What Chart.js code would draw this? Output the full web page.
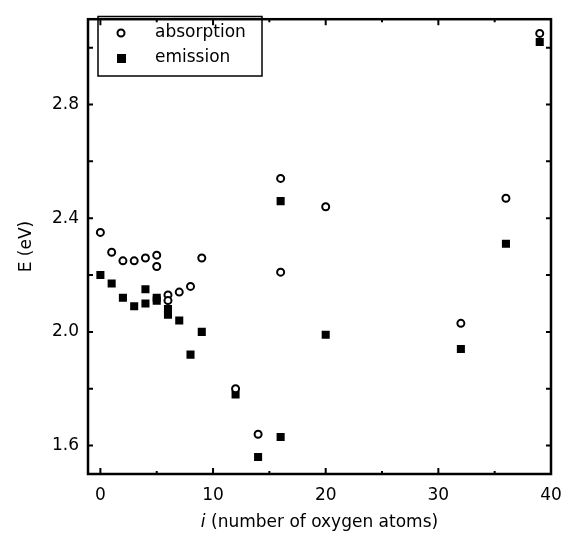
<!DOCTYPE html>
<html>
<head>
<meta charset="utf-8">
<script src="https://cdn.jsdelivr.net/npm/chart.js@4"></script>
<style>
  html, body { margin: 0; padding: 0; background: #fff; }
  #wrap { width: 574px; height: 542px; }
</style>
</head>
<body>
<div id="wrap"><canvas id="chart" width="574" height="542"></canvas></div>
<script>
// values
const absorptionI = [0, 1, 2, 3, 4, 5, 5, 6, 6, 7, 8, 9, 12, 14, 16, 16, 20, 32, 36, 39];
const absorptionE = [2.35, 2.28, 2.25, 2.25, 2.26, 2.27, 2.23, 2.13, 2.11, 2.14, 2.16, 2.26, 1.80, 1.64, 2.54, 2.21, 2.44, 2.03, 2.47, 3.05];
const emissionI = [0, 1, 2, 3, 4, 4, 5, 5, 6, 6, 7, 8, 9, 12, 14, 16, 16, 20, 32, 36, 39];
const emissionE = [2.20, 2.17, 2.12, 2.09, 2.15, 2.10, 2.12, 2.11, 2.08, 2.06, 2.04, 1.92, 2.00, 1.78, 1.56, 2.46, 1.63, 1.99, 1.94, 2.31, 3.02];
const xTicks = [0, 5, 10, 15, 20, 25, 30, 35, 40];
const xLabels = [0, 10, 20, 30, 40];
const yTicks = [1.6, 1.8, 2.0, 2.2, 2.4, 2.6, 2.8, 3.0];
const yLabels = [1.6, 2.0, 2.4, 2.8];

const FONT = "'DejaVu Sans', sans-serif";

function toPoints(xs, ys) {
    return xs.map((x, k) => ({ x: x, y: ys[k] }));
}

function isLabel(list, v) {
    return list.some(t => Math.abs(t - v) < 1e-6);
}

// frame, inward ticks on all four sides, axis titles
const framePlugin = {
    id: 'frame',
    afterDraw(chart) {
        const ctx = chart.ctx;
        const a = chart.chartArea;
        const xs = chart.scales.x, ys = chart.scales.y;
        ctx.save();
        ctx.strokeStyle = '#000';
        ctx.lineWidth = 2;
        ctx.beginPath();
        xs.ticks.forEach(t => {
            const px = xs.getPixelForValue(t.value);
            const len = isLabel(xLabels, t.value) ? 6 : 3;
            ctx.moveTo(px, a.bottom); ctx.lineTo(px, a.bottom - len);
            ctx.moveTo(px, a.top); ctx.lineTo(px, a.top + len);
        });
        ys.ticks.forEach(t => {
            const py = ys.getPixelForValue(t.value);
            const len = 5;
            ctx.moveTo(a.left, py); ctx.lineTo(a.left + len, py);
            ctx.moveTo(a.right, py); ctx.lineTo(a.right - len, py);
        });
        ctx.stroke();
        ctx.lineWidth = 2.5;
        ctx.strokeRect(a.left, a.top, a.right - a.left, a.bottom - a.top);

        // x title with italic i
        ctx.fillStyle = '#000';
        ctx.textBaseline = 'middle';
        ctx.textAlign = 'left';
        const italic = 'italic 17px ' + FONT;
        const normal = '17px ' + FONT;
        ctx.font = italic;
        const w1 = ctx.measureText('i').width;
        ctx.font = normal;
        const rest = ' (number of oxygen atoms)';
        const w2 = ctx.measureText(rest).width;
        const cx = (a.left + a.right) / 2;
        const start = cx - (w1 + w2) / 2;
        ctx.font = italic;
        ctx.fillText('i', start, 523);
        ctx.font = normal;
        ctx.fillText(rest, start + w1, 523);

        // y title
        ctx.translate(27, (a.top + a.bottom) / 2);
        ctx.rotate(-Math.PI / 2);
        ctx.textAlign = 'center';
        ctx.fillText('E (eV)', 0, 0);
        ctx.restore();
    }
};

new Chart(document.getElementById('chart'), {
    type: 'scatter',
    data: {
        datasets: [{
            label: 'absorption',
            data: toPoints(absorptionI, absorptionE),
            pointStyle: 'circle',
            pointRadius: 3.5,
            pointBorderWidth: 2,
            borderColor: '#000',
            backgroundColor: '#fff'
        }, {
            label: 'emission',
            data: toPoints(emissionI, emissionE),
            pointStyle: 'rect',
            pointRadius: 5.7,
            pointBorderWidth: 0,
            borderColor: '#000',
            backgroundColor: '#000'
        }]
    },
    options: {
        responsive: false,
        animation: false,
        layout: { padding: { left: 0, top: 11, right: 23, bottom: 0 } },
        plugins: {
            legend: { display: false },
            tooltip: { enabled: false }
        },
        scales: {
            x: {
                type: 'linear',
                min: -1.1,
                max: 40,
                afterBuildTicks(scale) { scale.ticks = xTicks.map(v => ({ value: v })); },
                afterFit(scale) { scale.height = 68; },
                grid: { display: false, drawTicks: false },
                border: { display: false },
                ticks: {
                    autoSkip: false,
                    maxRotation: 0,
                    padding: 11,
                    color: '#000',
                    font: { family: FONT, size: 17 },
                    callback: v => isLabel(xLabels, v) ? String(v) : ''
                }
            },
            y: {
                type: 'linear',
                min: 1.5,
                max: 3.1,
                afterBuildTicks(scale) { scale.ticks = yTicks.map(v => ({ value: v })); },
                afterFit(scale) { scale.width = 88; },
                grid: { display: false, drawTicks: false },
                border: { display: false },
                ticks: {
                    autoSkip: false,
                    padding: 9,
                    color: '#000',
                    font: { family: FONT, size: 17 },
                    callback: v => isLabel(yLabels, v) ? v.toFixed(1) : ''
                }
            }
        }
    },
    plugins: [framePlugin, {
        id: 'legendBox',
        afterDraw(chart) {
            // legend box drawn in the upper left, like the original
            const ctx = chart.ctx;
            const ds = chart.data.datasets;
            ctx.save();
            ctx.strokeStyle = '#000';
            ctx.lineWidth = 1.5;
            ctx.strokeRect(98, 16.5, 164, 59.5);
            ctx.font = '17px ' + FONT;
            ctx.fillStyle = '#000';
            ctx.textBaseline = 'middle';
            ctx.textAlign = 'left';
            ctx.fillText(ds[0].label, 155, 33);
            ctx.fillText(ds[1].label, 155, 58);
            ctx.lineWidth = 2;
            ctx.fillStyle = '#fff';
            ctx.beginPath();
            ctx.arc(121, 33, 3.5, 0, Math.PI * 2);
            ctx.fill();
            ctx.stroke();
            ctx.fillStyle = '#000';
            ctx.fillRect(117, 54, 9, 9);
            ctx.restore();
        }
    }]
});
</script>
</body>
</html>
